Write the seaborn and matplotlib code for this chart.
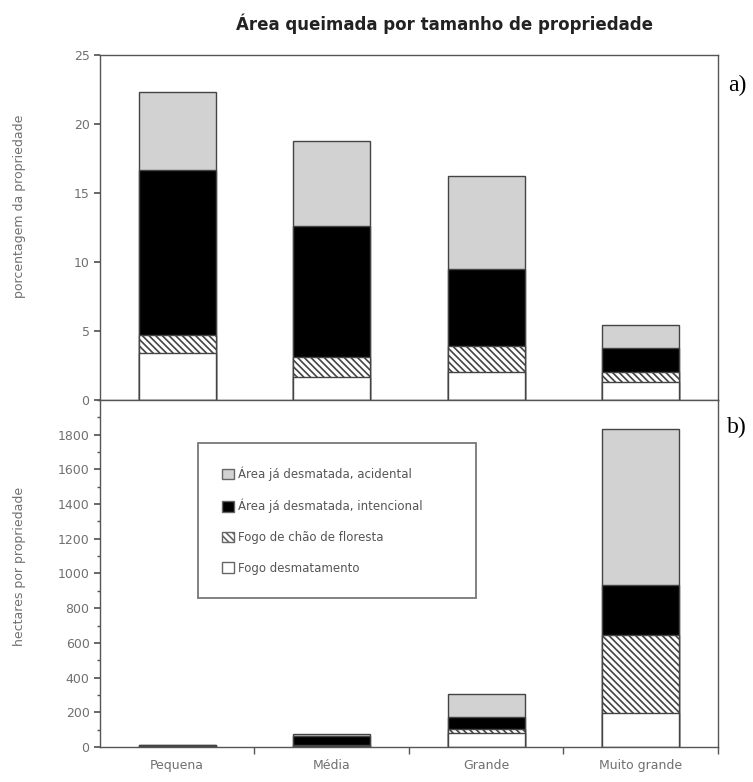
import numpy as np
import matplotlib.pyplot as plt
import seaborn as sns
from matplotlib.patches import Patch
from matplotlib.ticker import MultipleLocator, FixedLocator

sns.set_theme(style="white")
plt.rcParams['font.family'] = ['DejaVu Sans']
plt.rcParams['hatch.linewidth'] = 1.2

categorias = ["Pequena", "Média", "Grande", "Muito grande"]

# a) porcentagem da propriedade (de baixo para cima)
pct_fogo_desmat = [3.4, 1.7, 2.0, 1.3]
pct_fogo_chao = [1.3, 1.4, 1.9, 0.7]
pct_intencional = [12.0, 9.5, 5.6, 1.8]
pct_acidental = [5.6, 6.2, 6.7, 1.6]

# b) hectares por propriedade
ha_fogo_desmat = [3, 5, 80, 196]
ha_fogo_chao = [2, 5, 24, 450]
ha_intencional = [5, 55, 69, 289]
ha_acidental = [4, 8, 133, 900]

camadas = ["Fogo desmatamento", "Fogo de chão de floresta",
           "Área já desmatada, intencional", "Área já desmatada, acidental"]
cores = ["white", "white", "black", "#d2d2d2"]
hachuras = [None, "\\\\\\\\\\", None, None]
borda = "#444444"
cinza_txt = "#707070"


def desenha_pilha(ax, series):
    # barras acumuladas, desenhadas da maior para a menor
    cum = np.cumsum(np.array(series, dtype=float), axis=0)
    for i in reversed(range(len(series))):
        sns.barplot(x=categorias, y=cum[i], color=cores[i], hatch=hachuras[i],
                    edgecolor=borda, linewidth=1.0, width=0.5, saturation=1,
                    errorbar=None, ax=ax)
    ax.set_xlim(-0.5, 3.5)
    for s in ax.spines.values():
        s.set_visible(True)
        s.set_color("#555555")
        s.set_linewidth(1.0)
    ax.tick_params(axis="y", which="both", direction="out", left=True,
                   color="#555555", labelcolor=cinza_txt, labelsize=9)
    ax.tick_params(axis="y", which="major", length=4)
    ax.tick_params(axis="y", which="minor", length=2)


fig = plt.figure(figsize=(7.53, 7.82), dpi=100)
ax1 = fig.add_axes([0.1328, 0.4885, 0.8207, 0.4412])
ax2 = fig.add_axes([0.1328, 0.0448, 0.8207, 0.4437])

desenha_pilha(ax1, [pct_fogo_desmat, pct_fogo_chao, pct_intencional, pct_acidental])
ax1.set_ylim(0, 25)
ax1.yaxis.set_major_locator(MultipleLocator(5))
ax1.set_xticks([])
ax1.set_xlabel("")
ax1.set_ylabel("porcentagem da propriedade", fontsize=9, color=cinza_txt)
ax1.yaxis.set_label_coords(-0.12, 0.56)

desenha_pilha(ax2, [ha_fogo_desmat, ha_fogo_chao, ha_intencional, ha_acidental])
ax2.set_ylim(0, 2000)
ax2.yaxis.set_major_locator(FixedLocator(np.arange(0, 1801, 200)))
ax2.yaxis.set_minor_locator(MultipleLocator(100))
ax2.set_xticks(range(len(categorias)))
ax2.set_xticklabels(categorias)
ax2.xaxis.set_minor_locator(FixedLocator([0.5, 1.5, 2.5, 3.5]))
ax2.tick_params(axis="x", which="major", length=0, labelcolor=cinza_txt,
                labelsize=9, pad=9)
ax2.tick_params(axis="x", which="minor", bottom=True, direction="out",
                length=5, color="#555555")
ax2.set_xlabel("")
ax2.set_ylabel("hectares por propriedade", fontsize=9, color=cinza_txt)
ax2.yaxis.set_label_coords(-0.12, 0.52)

# legenda
ordem = [3, 2, 1, 0]
handles = [Patch(facecolor=cores[i], edgecolor="#666666", hatch=hachuras[i],
                 label=camadas[i]) for i in ordem]
leg = ax2.legend(handles=handles, loc="upper left",
                 bbox_to_anchor=(0.159, 0.0, 0.45, 0.876), mode="expand",
                 borderaxespad=0, fontsize=8.5, frameon=True, fancybox=False,
                 borderpad=2.0, labelspacing=1.5, handlelength=1.0,
                 handleheight=1.0, handletextpad=0.4)
leg.get_frame().set_edgecolor("#555555")
leg.get_frame().set_linewidth(1.3)
for t in leg.get_texts():
    t.set_color("#555555")

fig.text(444 / 753, 1 - 24 / 782, "Área queimada por tamanho de propriedade",
         ha="center", va="center", fontsize=12, fontweight="bold", color="#222222")
fig.text(737 / 753, 1 - 85 / 782, "a)", ha="center", va="center",
         fontsize=17, family=["Liberation Serif", "DejaVu Serif"], color="black")
fig.text(737 / 753, 1 - 427 / 782, "b)", ha="center", va="center",
         fontsize=17, family=["Liberation Serif", "DejaVu Serif"], color="black")

fig.savefig("out.png", dpi=100)
